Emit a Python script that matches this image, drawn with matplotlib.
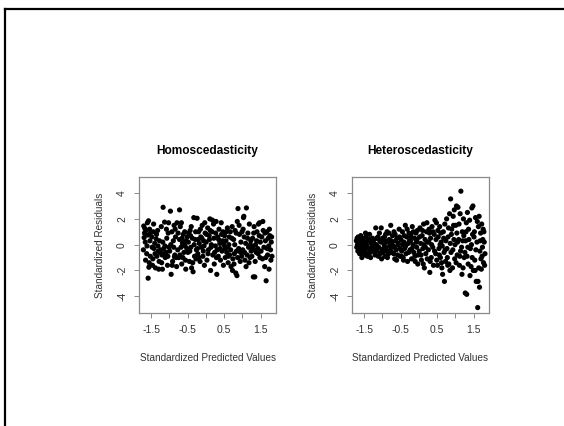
import matplotlib
matplotlib.use("Agg")
import matplotlib.pyplot as plt
from matplotlib.lines import Line2D
import numpy as np

# ---------------------------------------------------------------------------
# Data (standardized predicted value, residual)
# ---------------------------------------------------------------------------
homo_pts = [
    (-1.70, 1.45), (-1.68, 0.9), (-1.66, 0.2), (-1.71, -0.4), (-1.64, 1.1), (-1.62, -0.7),
    (-1.69, 0.55), (-1.60, 1.7), (-1.57, 1.85), (-1.55, -1.4), (-1.58, -2.6), (-1.53, 0.3),
    (-1.65, -1.2), (-1.52, -0.9), (-1.67, 1.25), (-1.59, 0.75), (-1.54, 1.2), (-1.61, -0.1),
    (-1.56, -1.75), (-1.51, 0.95),
    (-1.48, 0.6), (-1.46, -1.6), (-1.44, 1.0), (-1.42, -0.3), (-1.40, 0.1), (-1.38, -1.8),
    (-1.36, 0.45), (-1.34, -0.9), (-1.32, 1.1), (-1.30, -0.5), (-1.28, -1.3), (-1.47, -0.2),
    (-1.43, 1.6), (-1.39, -0.7), (-1.35, 0.8), (-1.31, -0.1), (-1.27, 0.3), (-1.45, -1.1),
    (-1.29, -1.9), (-1.26, -0.6),
    (-1.24, -0.4), (-1.22, 1.4), (-1.20, -0.8), (-1.18, 0.2), (-1.17, 2.9), (-1.15, -0.3),
    (-1.13, 1.75), (-1.11, -1.0), (-1.09, -0.6), (-1.07, 0.5), (-1.05, -1.6), (-1.03, 0.9),
    (-1.01, -0.2), (-1.21, -1.4), (-1.16, -0.7), (-1.12, -0.1), (-1.08, 1.2), (-1.04, -0.9),
    (-1.19, -1.9), (-1.02, 1.7),
    (-0.99, -0.5), (-0.97, 2.6), (-0.95, -2.3), (-0.93, 1.0), (-0.91, -1.3), (-0.89, 0.3),
    (-0.87, 1.5), (-0.85, -0.8), (-0.83, 0.6), (-0.81, -1.0), (-0.79, 1.7), (-0.77, -0.4),
    (-0.96, 0.0), (-0.92, -1.6), (-0.88, -0.2), (-0.84, 1.2), (-0.80, -1.7), (-0.76, 0.9),
    (-0.72, 2.7), (-0.86, -0.95),
    (-0.74, -1.0), (-0.72, 0.4), (-0.70, 1.4), (-0.68, -0.2), (-0.66, -1.5), (-0.64, 0.1),
    (-0.62, 0.8), (-0.60, -0.6), (-0.58, 1.0), (-0.56, -1.2), (-0.54, 0.3), (-0.52, -0.3),
    (-0.71, -0.8), (-0.67, 1.7), (-0.63, -1.0), (-0.59, 0.2), (-0.55, -1.9), (-0.51, 0.6),
    (-0.65, 0.5), (-0.57, -0.1),
    (-0.49, -0.6), (-0.47, 0.9), (-0.45, -1.3), (-0.43, 1.1), (-0.41, -0.2), (-0.39, -1.8),
    (-0.37, 0.5), (-0.35, -2.1), (-0.33, 2.1), (-0.31, -0.9), (-0.29, 0.4), (-0.27, -1.1),
    (-0.48, 0.2), (-0.44, -0.5), (-0.40, 1.4), (-0.36, -1.4), (-0.32, 0.0), (-0.28, 1.0),
    (-0.26, -0.4), (-0.42, 0.7),
    (-0.24, 2.05), (-0.22, -0.7), (-0.20, 1.0), (-0.18, 0.1), (-0.16, -1.3), (-0.14, 0.6),
    (-0.12, -0.2), (-0.10, 1.5), (-0.08, -0.9), (-0.06, 0.3), (-0.04, -1.6), (-0.02, 0.9),
    (-0.23, -0.3), (-0.19, -1.0), (-0.15, 1.2), (-0.11, 0.5), (-0.07, -0.5), (-0.03, 1.7),
    (-0.21, 0.4), (-0.05, -0.1),
    (0.01, 0.2), (0.03, -1.2), (0.05, 1.3), (0.07, -0.4), (0.09, 0.7), (0.11, 2.0),
    (0.13, -2.0), (0.15, 0.0), (0.17, 1.0), (0.19, -0.8), (0.21, 1.6), (0.23, -1.5),
    (0.02, 0.8), (0.06, -0.7), (0.10, 0.4), (0.14, -0.2), (0.18, 1.9), (0.22, 0.5),
    (0.24, -0.6), (0.12, 1.1),
    (0.26, -0.1), (0.28, 1.8), (0.30, -2.3), (0.32, 0.6), (0.34, -0.9), (0.36, 1.2),
    (0.38, 0.1), (0.40, -1.2), (0.42, 1.7), (0.44, -0.5), (0.46, 0.3), (0.48, -1.6),
    (0.27, 0.9), (0.31, -0.4), (0.35, 0.4), (0.39, -0.3), (0.43, 0.8), (0.47, 1.0),
    (0.29, -1.0), (0.49, 0.0),
    (0.51, 0.7), (0.53, -1.0), (0.55, 0.3), (0.57, -0.6), (0.59, 1.3), (0.61, -1.4),
    (0.63, 0.0), (0.65, -0.8), (0.67, 1.0), (0.69, -1.7), (0.71, 0.5), (0.73, -2.0),
    (0.52, -0.3), (0.56, 1.0), (0.60, -0.2), (0.64, 0.6), (0.68, -0.4), (0.72, 1.4),
    (0.74, -1.1), (0.62, -0.9),
    (0.76, 0.4), (0.78, -0.7), (0.80, 1.1), (0.82, -2.2), (0.84, -0.5), (0.86, 1.8),
    (0.88, 2.8), (0.90, -0.3), (0.92, 0.8), (0.94, -1.3), (0.96, 0.2), (0.98, -0.9),
    (0.85, -2.4), (0.79, 0.0), (0.83, 0.9), (0.87, -1.0), (0.91, 1.5), (0.95, -0.6),
    (0.99, 1.0), (0.77, -1.5),
    (1.01, -0.4), (1.03, 2.1), (1.05, 0.6), (1.07, -1.2), (1.09, 0.1), (1.11, 2.85),
    (1.13, -0.8), (1.15, 0.9), (1.17, -0.2), (1.19, 1.6), (1.21, -1.0), (1.23, 0.3),
    (1.02, 1.2), (1.06, -0.6), (1.10, -1.7), (1.14, 0.5), (1.18, -1.4), (1.22, 0.0),
    (1.24, -0.5), (1.04, 2.2),
    (1.26, -0.9), (1.28, 0.5), (1.30, -2.5), (1.32, 1.4), (1.34, -2.5), (1.36, 0.0),
    (1.38, -0.6), (1.40, 1.0), (1.42, -0.3), (1.44, 1.6), (1.46, 0.7), (1.48, -1.0),
    (1.27, -0.2), (1.31, 0.9), (1.35, -1.3), (1.39, 0.3), (1.43, -0.7), (1.47, 1.7),
    (1.33, -0.4), (1.49, 0.2),
    (1.51, -0.5), (1.53, 0.6), (1.55, -1.1), (1.57, 1.1), (1.59, -0.2), (1.61, -1.7),
    (1.63, 0.3), (1.65, -2.8), (1.67, 1.0), (1.69, -0.8), (1.71, 0.5), (1.73, -1.9),
    (1.75, 0.7), (1.77, -0.4), (1.79, 0.2), (1.81, -0.9), (1.56, 1.8), (1.62, 0.9),
    (1.68, -0.3), (1.74, 1.2), (1.80, 0.6), (1.64, -1.0), (1.72, -0.1), (1.78, -1.2),
]

hetero_pts = [
    (-1.71, 0.3), (-1.70, -0.2), (-1.69, 0.5), (-1.68, 0.0), (-1.67, -0.5), (-1.66, 0.6),
    (-1.65, 0.2), (-1.64, -0.3), (-1.63, 0.4), (-1.62, -0.7), (-1.61, 0.1), (-1.60, -0.1),
    (-1.59, 0.7), (-1.58, -0.4), (-1.57, 0.3), (-1.56, -1.0), (-1.55, 0.5), (-1.54, -0.6),
    (-1.53, 0.0), (-1.52, 0.4), (-1.51, -0.2), (-1.50, -0.8),
    (-1.49, 0.2), (-1.47, -0.5), (-1.45, 0.6), (-1.43, -0.1), (-1.41, -0.9), (-1.39, 0.3),
    (-1.37, -0.3), (-1.35, 0.8), (-1.33, -0.6), (-1.31, 0.1), (-1.29, -0.2), (-1.27, 0.5),
    (-1.48, -0.3), (-1.44, 0.0), (-1.40, -0.7), (-1.36, 0.4), (-1.32, -1.0), (-1.28, 0.2),
    (-1.26, -0.5), (-1.46, 0.9),
    (-1.24, -0.3), (-1.22, 0.4), (-1.20, -0.8), (-1.18, 1.3), (-1.16, 0.0), (-1.14, -0.5),
    (-1.12, 0.6), (-1.10, -0.2), (-1.08, 0.9), (-1.06, -0.7), (-1.04, 0.2), (-1.02, -1.1),
    (-1.23, 0.1), (-1.19, -0.4), (-1.15, 0.5), (-1.11, -0.9), (-1.07, 0.3), (-1.03, 1.3),
    (-1.21, -0.1), (-1.01, -0.4),
    (-0.99, 0.5), (-0.97, -0.3), (-0.95, 0.0), (-0.93, -0.9), (-0.91, 0.8), (-0.89, -0.5),
    (-0.87, 1.0), (-0.85, 0.2), (-0.83, -0.7), (-0.81, 0.4), (-0.79, -0.1), (-0.77, 1.5),
    (-0.98, -0.6), (-0.94, 0.6), (-0.90, -0.2), (-0.86, -1.0), (-0.82, 0.9), (-0.78, -0.4),
    (-0.76, 0.3), (-0.92, 0.3),
    (-0.74, -0.6), (-0.72, 0.7), (-0.70, -0.1), (-0.68, 1.0), (-0.66, -1.1), (-0.64, 0.3),
    (-0.62, -0.4), (-0.60, 0.5), (-0.58, -0.8), (-0.56, 0.1), (-0.54, 1.2), (-0.52, -0.3),
    (-0.73, 0.2), (-0.69, -0.7), (-0.65, 0.8), (-0.61, -1.2), (-0.57, 0.0), (-0.53, 0.6),
    (-0.67, -0.2), (-0.51, -0.9),
    (-0.49, 0.4), (-0.47, -0.5), (-0.45, 1.0), (-0.43, -1.0), (-0.41, 0.2), (-0.39, -0.3),
    (-0.37, 1.5), (-0.35, -0.7), (-0.33, 0.6), (-0.31, -1.3), (-0.29, 0.1), (-0.27, 0.9),
    (-0.48, -0.9), (-0.44, 0.0), (-0.40, 0.7), (-0.36, -0.1), (-0.32, 1.2), (-0.28, -0.6),
    (-0.26, 0.3), (-0.42, -1.2),
    (-0.24, -0.4), (-0.22, 0.8), (-0.20, -1.1), (-0.18, 1.4), (-0.16, 0.0), (-0.14, -0.6),
    (-0.12, 0.5), (-0.10, -1.3), (-0.08, 0.9), (-0.06, -0.2), (-0.04, 1.1), (-0.02, -0.8),
    (-0.23, 0.3), (-0.19, -0.3), (-0.15, 1.0), (-0.11, -0.9), (-0.07, 0.2), (-0.03, -1.5),
    (-0.21, 0.6), (-0.05, 0.4),
    (0.01, -0.5), (0.03, 1.3), (0.05, 0.1), (0.07, -1.2), (0.09, 0.7), (0.11, -0.3),
    (0.13, 1.6), (0.15, -1.8), (0.17, 0.4), (0.19, -0.7), (0.21, 1.0), (0.23, -1.1),
    (0.02, 0.6), (0.06, -0.8), (0.10, 1.1), (0.14, 0.0), (0.18, -0.2), (0.22, 1.7),
    (0.24, 0.2), (0.12, -1.5),
    (0.26, -0.4), (0.28, 1.2), (0.30, -2.15), (0.32, 0.5), (0.34, -1.0), (0.36, 1.4),
    (0.38, -0.2), (0.40, -1.6), (0.42, 0.8), (0.44, 1.9), (0.46, -0.7), (0.48, 1.7),
    (0.27, 0.2), (0.31, -1.3), (0.35, 0.0), (0.39, 1.0), (0.43, -0.5), (0.47, 0.4),
    (0.29, 0.9), (0.49, -1.2),
    (0.51, -1.6), (0.53, 0.6), (0.55, -0.3), (0.57, 1.4), (0.59, -1.0), (0.61, 0.2),
    (0.63, -1.8), (0.65, -2.3), (0.67, 1.0), (0.69, -0.6), (0.71, 1.6), (0.73, -1.3),
    (0.52, 1.1), (0.56, -0.8), (0.60, 0.9), (0.64, -0.1), (0.68, 0.5), (0.70, -2.85),
    (0.74, 0.3), (0.62, -1.4), (0.58, 0.0), (0.72, -0.4),
    (0.76, 2.0), (0.78, -1.0), (0.80, 0.6), (0.82, -1.5), (0.84, 2.4), (0.86, 0.1),
    (0.87, 3.55), (0.88, -0.6), (0.90, 1.2), (0.92, -1.8), (0.94, 2.2), (0.96, 0.4),
    (0.98, -1.1), (0.77, -0.3), (0.81, 1.3), (0.85, -2.0), (0.89, 0.8), (0.93, -0.4),
    (0.97, 2.7), (0.99, 0.0), (0.79, -1.6), (0.95, 1.5),
    (1.01, 1.5), (1.03, 3.0), (1.05, -0.8), (1.07, 2.9), (1.09, 0.4), (1.11, -1.6),
    (1.13, 2.4), (1.15, 4.15), (1.17, -0.2), (1.19, 1.0), (1.21, -1.8), (1.23, 0.7),
    (1.02, -1.4), (1.06, 0.2), (1.10, 1.6), (1.14, -0.5), (1.18, -2.3), (1.22, 2.0),
    (1.24, -1.0), (1.04, 0.9), (1.12, -0.9), (1.20, 0.3),
    (1.26, -0.6), (1.27, -3.75), (1.29, 1.0), (1.31, -3.85), (1.33, 2.5), (1.35, -1.5),
    (1.37, 0.4), (1.39, 1.9), (1.41, -0.3), (1.43, -1.7), (1.45, 2.85), (1.47, 0.8),
    (1.49, -2.0), (1.28, 0.3), (1.32, -0.9), (1.36, 1.2), (1.40, -2.4), (1.44, 0.0),
    (1.48, 3.0), (1.34, -0.2), (1.46, -1.0), (1.30, 1.7),
    (1.51, 0.6), (1.53, -1.2), (1.55, 2.1), (1.57, -2.85), (1.59, 0.2), (1.61, -4.88),
    (1.62, -2.85), (1.63, 1.4), (1.65, 2.2), (1.66, -3.3), (1.67, -0.5), (1.69, 0.9),
    (1.71, -1.9), (1.72, 1.6), (1.73, -0.9), (1.75, 0.4), (1.77, -1.4), (1.78, 1.0),
    (1.79, 0.2), (1.80, -1.6), (1.52, 1.0), (1.56, -0.4), (1.60, 1.8), (1.64, -1.8),
    (1.68, 0.3), (1.74, -0.2), (1.76, 1.2), (1.54, -2.0), (1.70, -1.1), (1.81, -0.7),
]

homo_x = [p[0] for p in homo_pts]
homo_y = [p[1] for p in homo_pts]
hetero_x = [p[0] for p in hetero_pts]
hetero_y = [p[1] for p in hetero_pts]

titles = ["Homoscedasticity", "Heteroscedasticity"]
x_ticks = [-1.5, -1.0, -0.5, 0.0, 0.5, 1.0, 1.5]
x_tick_labels = ["-1.5", "", "-0.5", "", "0.5", "", "1.5"]
y_ticks = [-4, -2, 0, 2, 4]
y_tick_labels = ["-4", "-2", "0", "2", "4"]

# ---------------------------------------------------------------------------
# Figure
# ---------------------------------------------------------------------------
plt.rcParams["font.family"] = ["Liberation Sans", "DejaVu Sans"]
plt.rcParams["axes.unicode_minus"] = False

W, H = 564, 426
fig = plt.figure(figsize=(W / 100, H / 100), dpi=100)

# slide frame (top and left edges visible)
fig.add_artist(Line2D([5 / W, 5 / W], [0, 1 - 9 / H], color="black", lw=1.6))
fig.add_artist(Line2D([5 / W, 1], [1 - 9 / H, 1 - 9 / H], color="black", lw=1.6))

boxes = [(139, 177, 137, 136), (352, 177, 137, 136)]
series = [(homo_x, homo_y), (hetero_x, hetero_y)]

for (bx, by, bw, bh), (xs, ys), title in zip(boxes, series, titles):
    ax = fig.add_axes([bx / W, 1 - (by + bh) / H, bw / W, bh / H])
    ax.scatter(xs, ys, s=14, color="black", edgecolors="none")
    ax.set_xlim(-1.83, 1.92)
    ax.set_ylim(-5.3, 5.25)

    for sp in ax.spines.values():
        sp.set_color("#8a8a8a")
        sp.set_linewidth(0.9)

    ax.set_xticks(x_ticks)
    ax.set_xticklabels(x_tick_labels)
    ax.set_yticks(y_ticks)
    ax.set_yticklabels(y_tick_labels, rotation=90, va="center")
    ax.tick_params(axis="both", length=3.6, width=0.7, color="#8a8a8a",
                   labelsize=7.5, labelcolor="#333333")
    ax.tick_params(axis="x", pad=5)
    ax.tick_params(axis="y", pad=5)

    ax.text(0.5, 1 + 26 / bh, title, transform=ax.transAxes, ha="center",
            va="center", fontsize=8.6, fontweight="bold", color="black")
    ax.text(0.5, -45 / bh, "Standardized Predicted Values", transform=ax.transAxes,
            ha="center", va="center", fontsize=7.2, color="#333333")
    ax.text(-39 / bw, 0.5, "Standardized Residuals", transform=ax.transAxes,
            ha="center", va="center", rotation=90, fontsize=7.2, color="#333333")

fig.savefig("out.png", dpi=100)
